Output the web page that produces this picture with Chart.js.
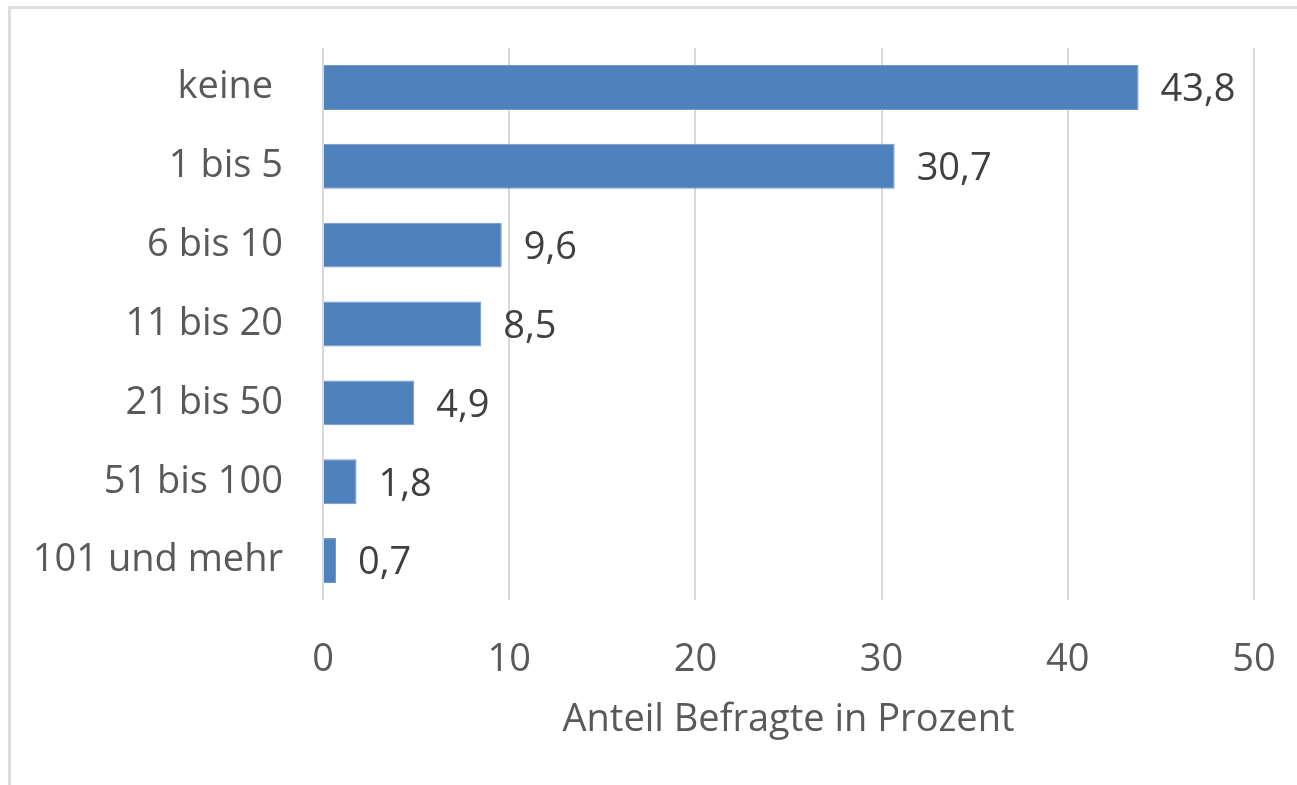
<!DOCTYPE html>
<html>
<head>
<meta charset="utf-8">
<script src="https://cdn.jsdelivr.net/npm/chart.js@4"></script>
<style>
  html, body { margin: 0; padding: 0; background: #fff; }
  #wrap { position: relative; width: 1297px; height: 785px; }
  #frame {
    position: absolute; left: 8px; top: 6px; right: 0; bottom: 0;
    border-top: 3px solid #dcdcdc; border-left: 3px solid #dcdcdc;
  }
  canvas { position: absolute; left: 0; top: 0; }
</style>
</head>
<body>
<div id="wrap">
  <div id="frame"></div>
  <canvas id="myChart" width="1297" height="785"></canvas>
</div>
<script>
const categories = ['keine ', '1 bis 5', '6 bis 10', '11 bis 20', '21 bis 50', '51 bis 100', '101 und mehr'];
const shares = [43.8, 30.7, 9.6, 8.5, 4.9, 1.8, 0.7];
const xTicks = [0, 10, 20, 30, 40, 50];
const axisTitle = 'Anteil Befragte in Prozent';

const FONT = "'Open Sans', sans-serif";

// draws the values next to the bars, German decimal comma
const valueLabels = {
  id: 'valueLabels',
  afterDatasetsDraw(chart) {
    const ctx = chart.ctx;
    const meta = chart.getDatasetMeta(0);
    ctx.save();
    ctx.font = '38px ' + FONT;
    ctx.fillStyle = '#404040';
    ctx.textAlign = 'left';
    ctx.textBaseline = 'middle';
    meta.data.forEach((bar, i) => {
      const txt = shares[i].toFixed(1).replace('.', ',');
      ctx.fillText(txt, bar.x + 22, bar.y + 3);
    });
    ctx.restore();
  }
};

const ctx = document.getElementById('myChart').getContext('2d');
const myChart = new Chart(ctx, {
  type: 'bar',
  data: {
    labels: categories,
    datasets: [{
      data: shares,
      backgroundColor: '#4f81bd',
      borderColor: '#6f98cb',
      borderWidth: 1,
      barPercentage: 0.57,
      categoryPercentage: 1
    }]
  },
  options: {
    indexAxis: 'y',
    responsive: false,
    animation: false,
    layout: { padding: { top: 48, right: 43, left: 10, bottom: 0 } },
    plugins: { legend: { display: false }, tooltip: { enabled: false } },
    scales: {
      x: {
        min: 0,
        max: 50,
        afterBuildTicks: axis => { axis.ticks = xTicks.map(v => ({ value: v })); },
        afterFit: axis => {
          axis.height = 185;
          axis.paddingLeft = 0;
          axis.paddingRight = 0;
        },
        grid: { color: '#d9d9d9', lineWidth: 2, drawTicks: false },
        border: { display: false },
        ticks: {
          padding: 37,
          color: '#595959',
          font: { family: FONT, size: 38 }
        },
        title: {
          display: true,
          text: axisTitle,
          color: '#595959',
          font: { family: FONT, size: 38 },
          padding: { top: 4, bottom: 42 }
        }
      },
      y: {
        afterFit: axis => {
          axis.width = 313;
          axis.paddingTop = 0;
          axis.paddingBottom = 0;
        },
        grid: { display: false },
        border: { display: false },
        ticks: {
          padding: 32,
          color: '#595959',
          font: { family: FONT, size: 38 }
        }
      }
    }
  },
  plugins: [valueLabels]
});
</script>
</body>
</html>
